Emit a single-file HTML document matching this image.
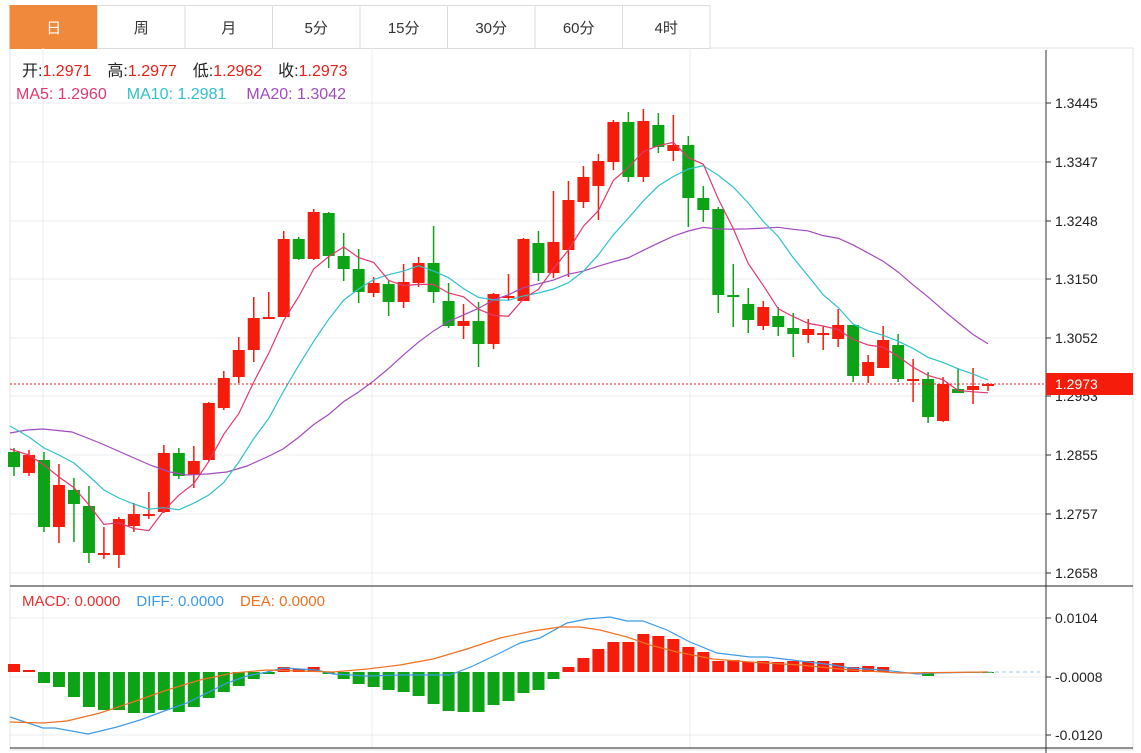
<!DOCTYPE html>
<html><head><meta charset="utf-8"><style>
body{margin:0;background:#fff;width:1141px;height:753px;overflow:hidden;font-family:"Liberation Sans","Noto Sans CJK SC",sans-serif}
svg{position:absolute;left:0;top:0}
</style></head><body>
<svg id="s" width="1141" height="753" xmlns="http://www.w3.org/2000/svg" font-family="Liberation Sans, Noto Sans CJK SC, sans-serif"></svg>
<script>
const S=document.getElementById('s');let h='';
h+='<rect x="10" y="48" width="1123" height="702" fill="none" stroke="#e3e3e3"/>';
const tabs=['日','周','月','5分','15分','30分','60分','4时'];
tabs.forEach((t,i)=>{const x=10+i*87.5;
h+=`<rect x="${x}" y="5.5" width="87.5" height="43" fill="${i?'#fff':'#f0893c'}" stroke="${i?'#dcdcdc':'#f0893c'}"/>`;
h+=`<text x="${x+43.7}" y="33" text-anchor="middle" font-size="15" fill="${i?'#333':'#fff'}">${t}</text>`;});
const py=[103,162,221,279,338,396,455,514,573],pl=['1.3445','1.3347','1.3248','1.3150','1.3052','1.2953','1.2855','1.2757','1.2658'];
py.forEach((y,i)=>{h+=`<line x1="10" x2="1046" y1="${y}" y2="${y}" stroke="#e8ecf0"/><line x1="1046" x2="1051" y1="${y}" y2="${y}" stroke="#333"/><text x="1055" y="${y+5}" font-size="14" fill="#222">${pl[i]}</text>`});
[[618,'0.0104'],[677,'-0.0008'],[735,'-0.0120']].forEach(([y,l])=>{h+=`<line x1="10" x2="1046" y1="${y}" y2="${y}" stroke="#e8ecf0"/><line x1="1046" x2="1051" y1="${y}" y2="${y}" stroke="#333"/><text x="1055" y="${y+5}" font-size="14" fill="#222">${l}</text>`});
[43,372,690].forEach(x=>h+=`<line x1="${x}" x2="${x}" y1="48" y2="750" stroke="#e8ecf0"/>`);
h+='<line x1="1046" x2="1046" y1="50" y2="753" stroke="#333"/>';
h+='<line x1="10" x2="1133" y1="586" y2="586" stroke="#222"/><line x1="10" x2="1133" y1="748" y2="748" stroke="#222"/>';
const C=[[452,467,448,476,0],[455,473,450,476,1],[460,527,452,532,0],[485,527,464,543,1],[490,504,478,542,0],[506,553,486,563,0],[553,553,527,559,1],[519,555,517,568,1],[514,526,503,532,1],[514,514,492,519,1],
[453,512,445,513,1],[453,476,448,479,0],[461,475,446,488,1],[403,460,402,461,1],[378,408,371,410,1],[350,377,337,383,1],[318,350,297,362,1],[317,317,292,319,1],[239,317,231,317,1],[239,259,237,260,0],
[212,259,209,260,1],[213,256,212,268,0],[256,269,233,281,0],[269,292,249,303,0],[283,293,277,297,1],[284,302,280,316,0],[282,302,264,308,1],[263,283,257,287,1],[263,292,226,303,0],[301,326,283,328,0],
[321,326,304,339,1],[321,344,302,367,0],[294,344,293,349,1],[296,296,274,300,1],[239,301,238,301,1],[243,273,231,281,0],[242,273,191,278,1],[200,250,181,277,1],[177,202,166,208,1],[161,186,154,220,1],
[122,162,120,170,1],[122,177,112,182,0],[121,177,109,182,1],[125,147,113,153,0],[145,151,115,161,1],[145,198,136,227,0],[198,210,186,222,0],[209,295,207,313,0],[295,295,264,327,0],[304,320,288,333,0],
[307,326,301,330,1],[316,327,307,336,0],[328,334,313,357,0],[329,335,319,343,1],[333,333,326,350,1],[325,339,309,347,1],[325,376,325,382,0],[362,376,355,383,1],[340,368,326,368,1],[345,379,334,382,0],
[379,379,359,402,1],[379,417,372,423,0],[384,421,377,422,1],[389,393,368,393,0],[386,390,368,404,1],[384,386,383,391,1]];
const X=i=>14+i*14.985;
const cl=C.map(c=>c[4]?c[0]:c[1]);
C.forEach((c,i)=>{const x=X(i),col=c[4]?'#f51c0c':'#0ca416';
h+=`<line x1="${x}" x2="${x}" y1="${c[2]}" y2="${c[3]}" stroke="${col}" stroke-width="1.5"/>`;
h+=`<rect x="${x-6}" y="${c[0]}" width="12" height="${Math.max(2,c[1]-c[0])}" fill="${col}"/>`;});
function ma(n,pre){const p=pre.slice();for(let i=n-1;i<cl.length;i++){let s=0;for(let k=i-n+1;k<=i;k++)s+=cl[k];p.push([X(i),s/n]);}return p.map(q=>q.join(',')).join(' ');}
const m5=ma(5,[[10,449],[X(1),455],[X(2),465],[X(3),477]]);
const m10=ma(10,[[10,426],[X(1),437],[X(2),448],[X(3),455],[X(4),463],[X(5),476],[X(6),490],[X(7),498],[X(8),504]]);
const m20=ma(20,[[10,433],[27,430],[43,429],[72,432],[100,443],[125,454],[150,465],[170,472],[187,475],[207,474],[227,472],[247,466],[267,457],[283,449]]);
h+=`<polyline points="${m20}" fill="none" stroke="#a24bbf" stroke-width="1.2"/>`;
h+=`<polyline points="${m10}" fill="none" stroke="#2ec2cc" stroke-width="1.2"/>`;
h+=`<polyline points="${m5}" fill="none" stroke="#e2386e" stroke-width="1.2"/>`;
h+='<line x1="10" x2="1046" y1="384" y2="384" stroke="#e02020" stroke-dasharray="2,2"/>';
h+='<rect x="1046" y="373" width="87" height="22" fill="#f51c0c"/><text x="1055" y="389" font-size="14" fill="#fff">1.2973</text>';
h+='<text x="22" y="76" font-size="16"><tspan fill="#222">开:</tspan><tspan fill="#e8201a">1.2971</tspan><tspan fill="#222" dx="16">高:</tspan><tspan fill="#e8201a">1.2977</tspan><tspan fill="#222" dx="16">低:</tspan><tspan fill="#e8201a">1.2962</tspan><tspan fill="#222" dx="16">收:</tspan><tspan fill="#e8201a">1.2973</tspan></text>';
h+='<text x="16" y="99" font-size="16"><tspan fill="#e2386e">MA5:  1.2960</tspan><tspan fill="#2ec2cc" dx="20">MA10:  1.2981</tspan><tspan fill="#a24bbf" dx="20">MA20:  1.3042</tspan></text>';
h+='<text x="22" y="606" font-size="15"><tspan fill="#e83030">MACD: 0.0000</tspan><tspan fill="#3b9be8" dx="16">DIFF: 0.0000</tspan><tspan fill="#f07020" dx="16">DEA: 0.0000</tspan></text>';
const M=[664,670,683,687,697,707,710,710,713,713,710,712,707,698,692,686,679,674,667,669,667,674,679,684,687,690,692,696,704,711,712,712,705,701,693,690,679,667,658,649,642,642,634,636,639,647,652,661,660,662,661,662,661,661,661,663,667,666,667,672,672,676,673,673,673,673];
M.forEach((y,i)=>{const x=X(i),b=672;if(Math.abs(y-b)<1)return;
h+=`<rect x="${x-6}" y="${Math.min(y,b)}" width="12" height="${Math.abs(y-b)}" fill="${y<b?'#f51c0c':'#0ca416'}"/>`;});
h+='<line x1="988" x2="1040" y1="672" y2="672" stroke="#9cc8ee" stroke-dasharray="4,3"/>';
h+='<polyline fill="none" stroke="#3b9be8" stroke-width="1.2" points="10,717 43,728 55,728 88,734 117,727 140,720 167,710 187,703 207,693 227,683 247,676 267,672 283,668 300,669 317,670 333,674 367,676 400,675 450,675 473,666 500,653 520,643 540,638 567,623 587,619 610,617 627,621 643,621 667,630 690,642 717,653 750,657 767,657 800,661 833,665 850,668 883,670 917,674 933,673 988,672"/>';
h+='<polyline fill="none" stroke="#f07020" stroke-width="1.2" points="10,722 43,723 67,721 100,713 133,702 167,690 200,680 233,673 267,670 300,671 333,672 367,669 400,665 433,659 467,649 500,638 533,631 560,627 580,627 600,630 627,637 650,645 677,652 713,659 750,662 800,665 850,670 900,673 988,672"/>';
S.innerHTML=h;
</script>
</body></html>
